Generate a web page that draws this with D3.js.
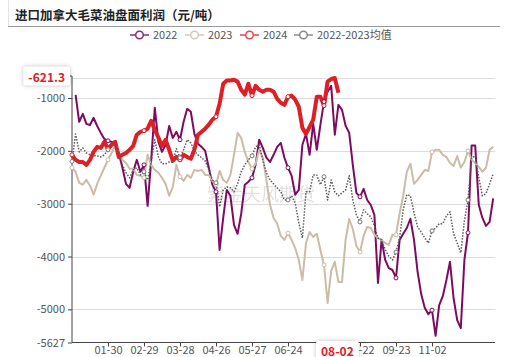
<!DOCTYPE html>
<html><head><meta charset="utf-8">
<script src="https://cdn.jsdelivr.net/npm/d3@7"></script>
<style>
html,body{margin:0;padding:0;background:#fff;}
svg{display:block;font-family:"Noto Sans CJK SC","Noto Sans",sans-serif;}
</style></head>
<body>
<svg id="chart" width="508" height="357"></svg>
<script>
const title = "进口加拿大毛菜油盘面利润（元/吨）";
const seriesNames = ["2022", "2023", "2024", "2022-2023均值"];
const nCategories = 236;
const sampleStep = 2;
const tickIndex = [20, 40, 60, 80, 100, 120, 160, 180, 200];
const tickLabels = ["01-30", "02-29", "03-28", "04-26", "05-27", "06-24", "08-22", "09-23", "11-02"];
const yTickValues = [-5627, -5000, -4000, -3000, -2000, -1000];
const yMax = -621.3;
const pointerIndex = 148;
const pointerLabel = "08-02";

const v2022 = [null, -940, -1450, -1300, -1490, -1510, -1375, -1530, -1660, -1775,
  -1810, -1830, -1885, -2040, -2320, -2625, -2700, -2395, -2170, -2395,
  -2265, -3040, -2170, -1185, -1830, -2020, -1885, -1530, -1755, -1640,
  -1790, -1450, -1205, -1260, -1680, -1865, -1925, -2000, -2320, -2640,
  -2775, -3875, -3270, -2740, -2850, -3400, -3570, -3190, -2640, -2585,
  -2510, -2265, -1790, -1945, -2130, -2210, -2075, -1925, -1850, -2130,
  -2320, -2470, -2830, -2740, -1885, -1680, -2075, -1490, -1980, -1510,
  -1070, -880, -770, -1695, -1130, -1225, -1525, -1660, -2265, -2795,
  -2870, -2720, -2930, -3025, -3210, -4500, -3685, -4065, -4220, -4255,
  -4405, -3685, -3570, -3460, -3285, -3685, -4290, -4710, -4975, -5090,
  -5015, -5500, -4920, -4750, -4445, -4100, -4790, -5205, -5355, -4065,
  -3550, -1900, -1900, -3025, -3270, -3420, -3345, -2900];

const v2023 = [-2320, -2395, -2605, -2640, -2550, -2660, -2830, -2625, -2470, -2320,
  -2170, -2040, -1905, -2020, -2170, -2230, -2340, -2340, -2455, -2470,
  -2510, -2075, -2265, -2360, -2415, -2510, -2625, -2850, -2680, -2265,
  -2490, -2570, -2455, -2510, -2360, -2380, -2360, -2455, -2455, -2570,
  -2640, -2380, -2550, -2605, -2455, -2075, -1660, -1755, -2020, -2210,
  -2340, -2245, -1980, -2130, -2550, -3020, -3270, -3380, -3610, -3685,
  -3555, -3685, -3840, -4065, -4445, -3745, -3535, -3630, -3570, -3875,
  -4160, -4880, -4270, -4100, -4480, -4480, -3685, -3290, -3480, -3800,
  -3915, -3610, -3440, -3460, -3590, -3650, -3685, -3745, -3780, -3590,
  -3590, -3190, -2850, -2395, -2245, -2625, -2550, -2455, -2360, -2380,
  -2020, -1980, -1980, -2075, -2115, -2230, -2285, -2100, -2320, -2210,
  -2000, -2170, -2230, -2305, -2395, -2320, -1980, -1925];

const v2024 = [-2075, -2170, -2210, -2210, -2265, -2170, -2020, -1925, -1945, -1830,
  -1960, -1885, -1830, -2115, -2075, -2040, -1980, -1905, -1695, -1640,
  -1620, -1580, -1430, -1600, -1750, -1905, -1790, -1980, -2190, -2115,
  -2170, -2075, -2115, -2150, -1980, -1695, -1640, -1580, -1505, -1410,
  -1355, -1110, -730, -670, -670, -655, -690, -845, -935, -730,
  -955, -770, -845, -880, -845, -845, -880, -1015, -1090, -1130,
  -975, -955, -1030, -1165, -1565, -1680, -1545, -1410, -975, -975,
  -1145, -690, -640, -621.3, -900];

const vAvg = [-2200, -1680, -2020, -1945, -2040, -2075, -2095, -2095, -2115, -2075,
  -1980, -1925, -1865, -2040, -2265, -2415, -2510, -2360, -2320, -2455,
  -2395, -2550, -2210, -1790, -2115, -2245, -2245, -2210, -2210, -1960,
  -2130, -1980, -1790, -1850, -2000, -2075, -2130, -2190, -2360, -2550,
  -2605, -3060, -2740, -2680, -2700, -2775, -2625, -2395, -2265, -2170,
  -2095, -1925, -1885, -2170, -2415, -2550, -2625, -2700, -2775, -2930,
  -2930, -2850, -2985, -3365, -3650, -2775, -2775, -2455, -2455, -2640,
  -2490, -2930, -2550, -2775, -2850, -2795, -2740, -2470, -2930, -3210,
  -3345, -3115, -3190, -3250, -3420, -3650, -3685, -3875, -3990, -4065,
  -3915, -3650, -3115, -2830, -2850, -3170, -3440, -3535, -3650, -3745,
  -3515, -3460, -3380, -3380, -3230, -3155, -3570, -3745, -3930, -3325,
  -2930, -2130, -2095, -2510, -2850, -2810, -2625, -2435];

const colors = ["#7E0B5F", "#CBBCA8", "#DE1F26", "#5a5a5a"];
const widths = [2, 2, 4, 1.5];

const svg = d3.select("#chart");
const mLeft = 72, mRight = 495, mTop = 78, mBottom = 342.5;

const x = d3.scaleLinear().domain([0, nCategories - 1]).range([mLeft, mRight]);
const y = d3.scaleLinear().domain([yTickValues[0], yMax]).range([mBottom, mTop]);

// title block
svg.append("line").attr("x1", 8.5).attr("x2", 8.5).attr("y1", 0).attr("y2", 26).attr("stroke", "#e4e4e4");
svg.append("text").attr("x", 15).attr("y", 19.5).attr("font-size", 12.5).attr("font-weight", 700)
  .attr("fill", "#222").text(title);
svg.append("line").attr("x1", 8).attr("x2", 500).attr("y1", 26.5).attr("y2", 26.5).attr("stroke", "#9a9a9a").attr("stroke-width", 1);

// legend
const legendX = [130, 185, 240, 294];
const legendColors = ["#8E2A74", "#D6C9B9", "#E3474D", "#8a8a8a"];
seriesNames.forEach((n, i) => {
  const c = legendColors[i];
  const g = svg.append("g").attr("transform", `translate(${legendX[i]},35)`);
  g.append("line").attr("x1", 0).attr("x2", 19).attr("y1", 0).attr("y2", 0)
    .attr("stroke", c).attr("stroke-width", 1.5);
  g.append("circle").attr("cx", 9.5).attr("cy", 0).attr("r", 3.8).attr("fill", "#fff")
    .attr("stroke", c).attr("stroke-width", 1.5);
  g.append("text").attr("x", 23).attr("y", 4).attr("font-size", 11).attr("fill", "#555").text(n);
});

// grid
const gridVals = yTickValues.slice(1).concat([yMax]);
svg.append("g").selectAll("line").data(gridVals).join("line")
  .attr("x1", mLeft).attr("x2", mRight)
  .attr("y1", d => Math.round(y(d)) + 0.5).attr("y2", d => Math.round(y(d)) + 0.5)
  .attr("stroke", "#dcdcdc").attr("stroke-width", 1);

// watermark
svg.append("text").attr("x", 207).attr("y", 201).attr("font-size", 18).attr("fill", "#c8c8c8")
  .attr("opacity", 0.55).text("紫金天风期货");

// axes
const yAxis = d3.axisLeft(y).tickValues(yTickValues).tickFormat(d => d).tickSize(4).tickPadding(3);
const gy = svg.append("g").attr("transform", `translate(${mLeft},0)`).call(yAxis);
gy.select(".domain").attr("stroke", "#444").attr("d", `M-4,${mTop - 2}H0V${mBottom}`);
gy.selectAll(".tick line").attr("stroke", "#444");
gy.selectAll(".tick text").attr("font-size", 11).attr("fill", "#555").attr("font-family", "Noto Sans CJK SC, Noto Sans, sans-serif");

const xAxis = d3.axisBottom(x).tickValues(tickIndex).tickFormat((d, i) => tickLabels[i]).tickSize(4).tickPadding(1);
const gx = svg.append("g").attr("transform", `translate(0,${mBottom})`).call(xAxis);
gx.select(".domain").attr("stroke", "#444").attr("d", `M${mLeft},0H${mRight}`);
gx.selectAll(".tick line").attr("stroke", "#444");
gx.selectAll(".tick text").attr("font-size", 11).attr("fill", "#555").attr("dy", "0.62em")
  .attr("font-family", "Noto Sans CJK SC, Noto Sans, sans-serif");

// series
const allSeries = [v2022, v2023, v2024, vAvg];
const line = d3.line().defined(d => d != null).x((d, i) => x(i * sampleStep)).y(d => y(d));
allSeries.forEach((vals, s) => {
  const p = svg.append("path").datum(vals).attr("d", line).attr("fill", "none")
    .attr("stroke", colors[s]).attr("stroke-width", widths[s]).attr("stroke-linejoin", "round");
  if (s === 3) p.attr("stroke-dasharray", "1.5,1.5");
});
allSeries.forEach((vals, s) => {
  svg.append("g").selectAll("circle")
    .data(vals.map((v, i) => ({v, i})).filter(d => d.v != null && (d.i * sampleStep) % 20 === 0))
    .join("circle")
    .attr("cx", d => x(d.i * sampleStep)).attr("cy", d => y(d.v)).attr("r", 2)
    .attr("fill", "#fff").attr("stroke", s === 3 ? "#777" : colors[s]).attr("stroke-width", 1);
});

// axis pointer labels
function pointerBox(cx, cy, txt, anchor) {
  const g = svg.append("g");
  const t = g.append("text").attr("font-size", 12).attr("font-weight", 700).attr("fill", "#E0202A")
    .attr("text-anchor", anchor).attr("dominant-baseline", "central").text(txt);
  t.attr("x", cx).attr("y", cy);
  const bb = t.node().getBBox();
  g.insert("rect", "text").attr("x", bb.x - 5).attr("y", bb.y - 1).attr("width", bb.width + 10).attr("height", bb.height + 2)
    .attr("fill", "#fff").attr("rx", 2)
    .style("filter", "drop-shadow(0px 0px 2px rgba(0,0,0,0.25))");
}
pointerBox(mLeft - 7, y(yMax) - 2, String(yMax), "end");
pointerBox(x(pointerIndex) - 1, mBottom + 8, pointerLabel, "middle");
</script>
</body></html>
